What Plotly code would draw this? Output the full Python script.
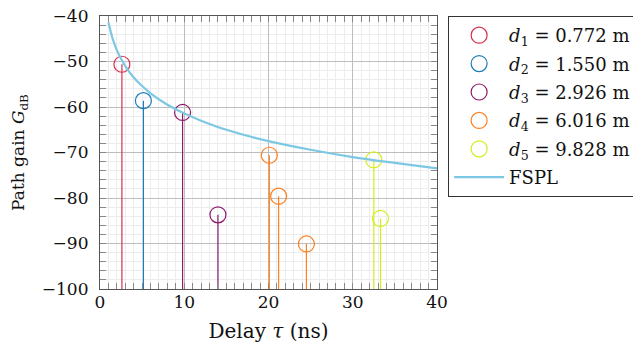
import plotly.graph_objects as go

# Data
series_names = ["d1", "d2", "d3", "d4", "d5"]
series_labels = [
    "<i>d</i><sub>1</sub> = 0.772 m",
    "<i>d</i><sub>2</sub> = 1.550 m",
    "<i>d</i><sub>3</sub> = 2.926 m",
    "<i>d</i><sub>4</sub> = 6.016 m",
    "<i>d</i><sub>5</sub> = 9.828 m",
]
delays_d1 = [2.6]
gains_d1 = [-50.6]
delays_d2 = [5.15]
gains_d2 = [-58.6]
delays_d3 = [9.8, 14.0]
gains_d3 = [-61.2, -83.7]
delays_d4 = [20.1, 21.2, 24.5]
gains_d4 = [-70.6, -79.6, -90.1]
delays_d5 = [32.5, 33.3]
gains_d5 = [-71.6, -84.5]

fspl_delay = [1.0, 1.5, 2, 2.5, 3, 4, 5, 6, 8, 10, 12, 15, 20, 25, 30, 35, 40]
fspl_gain = [-41.4, -45.0, -47.5, -49.4, -51.0, -53.5, -55.4, -57.0, -59.5,
             -61.4, -63.0, -65.0, -67.5, -69.4, -71.0, -72.3, -73.5]

colors = ["#d6304f", "#1c7db8", "#8c1a6a", "#ff7f1e", "#d4ee1a"]
fspl_color = "#7cc8e4"
baseline = -100

all_delays = [delays_d1, delays_d2, delays_d3, delays_d4, delays_d5]
all_gains = [gains_d1, gains_d2, gains_d3, gains_d4, gains_d5]

font_family = "DejaVu Serif"
fs = 17

fig = go.Figure()

for name, label, col, ds, gs in zip(series_names, series_labels, colors, all_delays, all_gains):
    sx, sy = [], []
    for d, g in zip(ds, gs):
        sx += [d, d, None]
        sy += [baseline, g, None]
    fig.add_trace(go.Scatter(x=sx, y=sy, mode="lines", line=dict(color=col, width=1.2),
                             showlegend=False, hoverinfo="skip", legendgroup=name))
    fig.add_trace(go.Scatter(x=ds, y=gs, mode="markers", name=label, legendgroup=name,
                             marker=dict(symbol="circle-open", size=16, color=col,
                                         line=dict(width=1.2, color=col))))

fig.add_trace(go.Scatter(x=fspl_delay, y=fspl_gain, mode="lines", name="FSPL",
                         line=dict(color=fspl_color, width=2.2, shape="spline")))

axis_common = dict(
    showline=True, linecolor="#555555", linewidth=1.2, mirror="allticks",
    ticks="inside", ticklen=6, tickcolor="#888888",
    showgrid=True, gridcolor="#bdbdbd", gridwidth=1, zeroline=False,
    automargin=False, ticklabeloverflow="allow",
    tickfont=dict(family=font_family, size=fs, color="#111111"),
)

fig.update_xaxes(range=[0, 40], dtick=10, tick0=0,
                 title=dict(text="Delay <i>τ</i> (ns)", standoff=13,
                            font=dict(family=font_family, size=20, color="#111111")),
                 ticklabelstandoff=-3,
                 minor=dict(dtick=1, ticks="inside", ticklen=6, tickcolor="#888888",
                            showgrid=True, gridcolor="#ececec", gridwidth=1),
                 **axis_common)
fig.update_yaxes(range=[-100, -40], dtick=10, tick0=0,
                 title=dict(text="Path gain <i>G</i><sub>dB</sub>", standoff=24,
                            font=dict(family=font_family, size=fs, color="#111111")),
                 ticklabelstandoff=7,
                 minor=dict(dtick=2, ticks="inside", ticklen=6, tickcolor="#888888",
                            showgrid=True, gridcolor="#ececec", gridwidth=1),
                 **axis_common)

# the page body adds an 8px offset, so the figure is sized to fit the window
fig.update_layout(
    width=633, height=338,
    margin=dict(l=92, r=204, t=8, b=57, autoexpand=False),
    paper_bgcolor="white", plot_bgcolor="white",
    font=dict(family=font_family, size=fs, color="#111111"),
    legend=dict(x=1.033, y=1.0, xanchor="left", yanchor="top",
                bordercolor="#333333", borderwidth=1, bgcolor="white",
                font=dict(family=font_family, size=18, color="#111111"),
                tracegroupgap=2, itemwidth=50),
)

fig.write_html("out.html")
